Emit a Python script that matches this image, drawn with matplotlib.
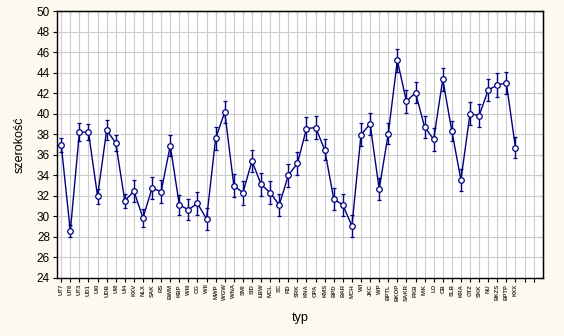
import matplotlib.pyplot as plt
import numpy as np

plt.rcParams["font.family"] = ["Liberation Sans", "DejaVu Sans"]

labels = ["UT7", "UT6", "UT3", "UD1", "UI0", "UDB", "UI8", "UI4", "KXV", "NLX",
          "SAK", "RS", "BWM", "KBP", "WIII", "CG", "WII", "MWP", "WGW", "WNA",
          "SMI", "SID", "ŁBW", "MCL", "SC", "RD", "SRK", "KNA", "OPA", "KMS",
          "BPD", "BAR", "MCH", "WI", "JKC", "WP", "BPTL", "BKOP", "SAKR", "PKB",
          "MIK", "LO", "CB", "SLB", "KRA", "OTZ", "SKK", "NU", "BKZS", "BPTP",
          "KXX"]
means = [36.95, 28.55, 38.2, 38.2, 31.95, 38.4, 37.15, 31.5, 32.45, 29.85,
         32.75, 32.4, 36.9, 31.1, 30.65, 31.25, 29.75, 37.6, 40.15, 33.0,
         32.3, 35.4, 33.1, 32.3, 31.1, 34.0, 35.15, 38.55, 38.65, 36.5,
         31.7, 31.1, 29.05, 37.95, 39.0, 32.65, 38.05, 45.2, 41.2, 42.05,
         38.7, 37.5, 43.35, 38.3, 33.55, 40.0, 39.8, 42.3, 42.8, 43.0,
         36.7]
errs = [0.65, 0.6, 0.9, 0.8, 0.75, 0.95, 0.8, 0.65, 1.05, 0.9,
        1.1, 1.1, 1.05, 1.0, 1.05, 1.1, 1.1, 1.1, 1.1, 1.1,
        1.15, 1.05, 1.1, 1.1, 1.07, 1.1, 1.1, 1.1, 1.1, 1.05,
        1.05, 1.1, 1.1, 1.1, 1.05, 1.1, 1.05, 1.1, 1.1, 1.0,
        1.05, 1.1, 1.1, 1.0, 1.1, 1.1, 1.1, 1.05, 1.15, 1.05,
        1.05]
n_slots = 53

navy = "#00007f"
fig = plt.figure(figsize=(5.64, 3.36), dpi=100, facecolor="#fdf9ef")
ax = fig.add_axes([0.101, 0.173, 0.862, 0.794])
ax.set_facecolor("white")

x = np.arange(1, len(labels) + 1)
ax.errorbar(x, means, yerr=errs, color=navy, lw=1.0, elinewidth=1.0,
            capsize=1.3, capthick=0.8, marker="o", ms=4.0, mfc="white",
            mec=navy, mew=0.9, zorder=3)

ax.set_xlim(0.53, n_slots + 1.05)
ax.set_ylim(24, 50)
ax.set_yticks(np.arange(24, 51, 2))
ticks = np.arange(1, n_slots + 1)
ax.set_xticks(ticks)
ax.set_xticklabels(labels + [""] * (n_slots - len(labels)), rotation=90,
                   fontsize=4.3, fontweight="bold", color="#333333")
ax.tick_params(axis="y", labelsize=8.5, length=3, direction="out", pad=2)
ax.tick_params(axis="x", length=3, direction="out", pad=1.5)
ax.grid(True, color="#cccccc", lw=0.8)
ax.set_axisbelow(True)
for s in ax.spines.values():
    s.set_linewidth(1.0)
    s.set_color("black")

sy = ax.secondary_yaxis("right")
sy.set_yticks(np.arange(24, 51, 2))
sy.tick_params(direction="in", length=3, labelright=False)
sx = ax.secondary_xaxis("top")
sx.set_xticks(ticks)
sx.tick_params(direction="in", length=3, labeltop=False)

ax.set_ylabel("szerokość", fontsize=9, labelpad=8)
ax.set_xlabel("typ", fontsize=9, labelpad=8)

fig.savefig("out.png", dpi=100, facecolor=fig.get_facecolor())
